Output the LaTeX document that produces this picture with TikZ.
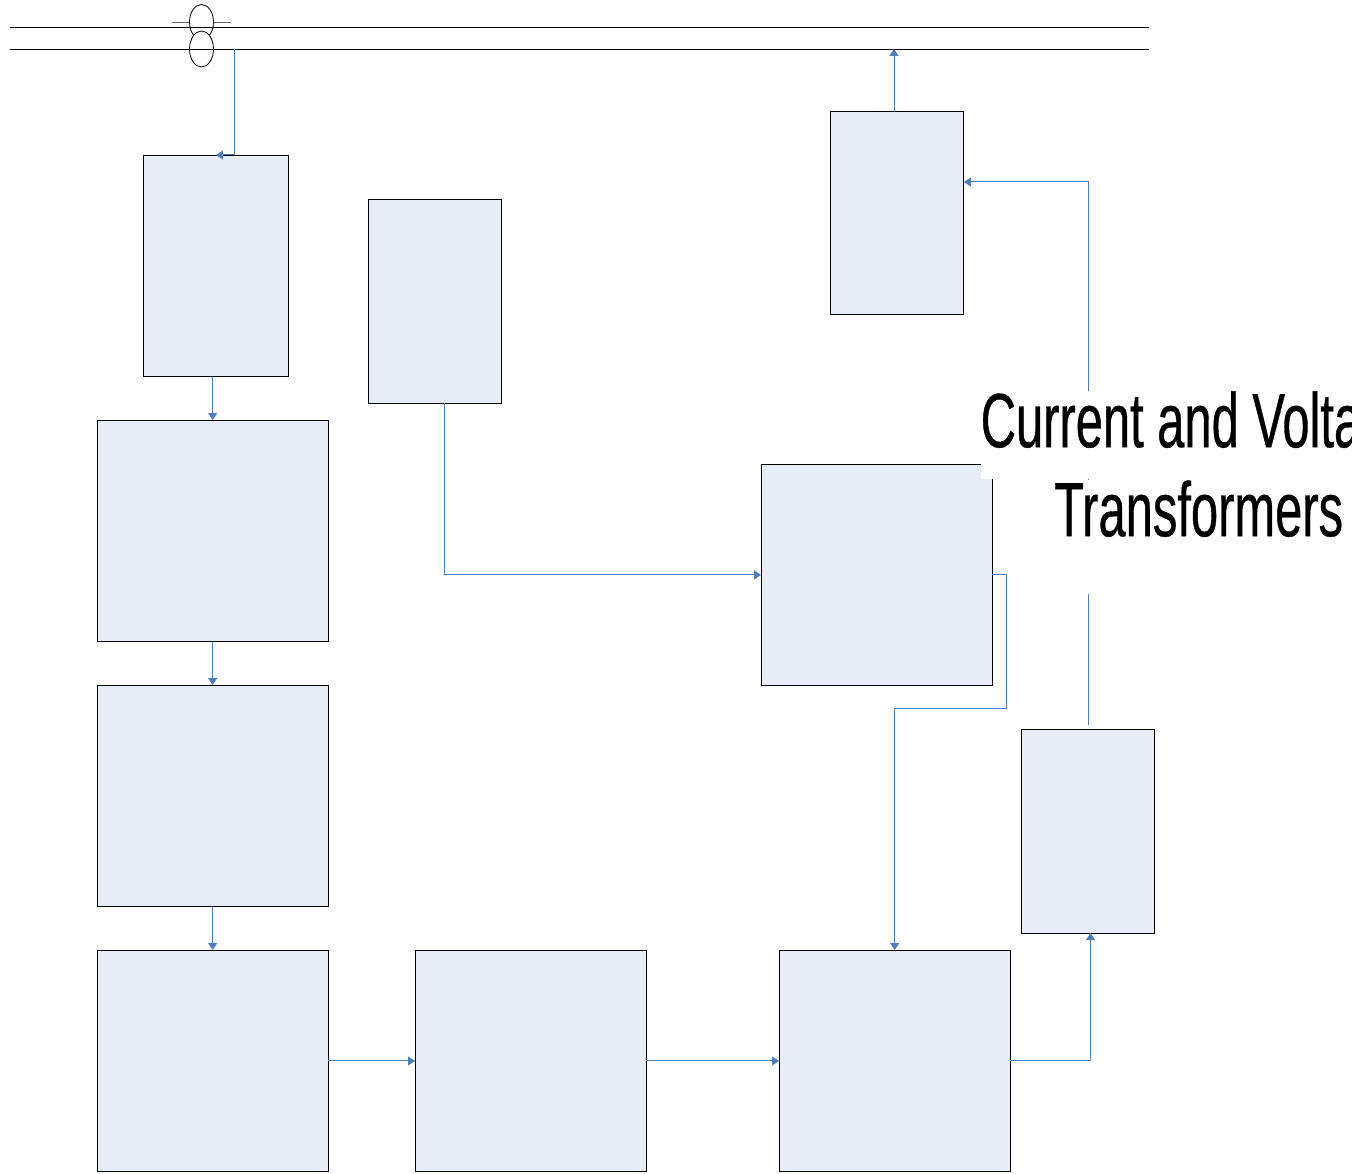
\documentclass[tikz,border=0pt]{standalone}
\usepackage{fontspec}
\newfontfamily\narrowfont[FakeStretch=0.635,FakeBold=0.5]{Liberation Sans}
\usetikzlibrary{arrows.meta,shapes.geometric}
\definecolor{boxfill}{HTML}{E7EDF7}
\definecolor{wire}{HTML}{4A7EBF}
\tikzset{
  block/.style={draw,line width=0.9pt,fill=boxfill,shape=rectangle,anchor=north west,inner sep=0pt},
  bigblock/.style={block,minimum width=230.5pt,minimum height=221pt},
  tallblock/.style={block,minimum width=133pt,minimum height=203.5pt},
  link/.style={draw=wire,line width=1pt,-{Triangle[length=7pt,width=9pt]}},
  busline/.style={line width=0.9pt},
  coil/.style={draw,line width=0.8pt,fill=white},
  heading/.style={fill=white,inner sep=0pt,anchor=north west,font=\narrowfont\fontsize{77pt}{89pt}\selectfont}
}
\begin{document}
\begin{tikzpicture}[x=1pt,y=-1pt]
   \useasboundingbox (0,0) rectangle (1352,1174);

   \draw[line width=1pt,gray!80!black] (172,23) -- (231,23);
   \path (201.5,22) node[coil,ellipse,minimum width=24pt,minimum height=35pt,inner sep=0pt] (coilA) {};
   \path (201.5,49) node[coil,ellipse,minimum width=24pt,minimum height=36pt,inner sep=0pt] (coilB) {};
   \coordinate (busAw) at (10,27);
   \coordinate (busAe) at (1149,27);
   \coordinate (busBw) at (10,49);
   \coordinate (busBe) at (1149,49);
   \draw[busline] (busAw) -- (busAe);
   \draw[busline] (busBw) -- (busBe);

   \path (143,155) node[block,minimum width=145pt,minimum height=221pt] (meter) {};
   \path (97,420) node[bigblock] (B) {};
   \path (97,685) node[bigblock] (C) {};
   \path (97,950) node[bigblock] (D) {};
   \path (415,950) node[bigblock] (E) {};
   \path (779,950) node[bigblock] (F) {};
   \path (761,464) node[bigblock] (H) {};
   \path (368,199) node[tallblock] (I) {};
   \path (830,111) node[tallblock] (J) {};
   \path (1021,729) node[tallblock] (G) {};

   \coordinate (tapBus) at (234.5,49);
   \coordinate (tapMeter) at (234.5,155);
   \coordinate (outBus) at (894,49);
   \coordinate (outJ) at (894,111);
   \coordinate (outI) at (444,403);
   \coordinate (inG) at (1090.5,933);
   \coordinate (outG) at (1088,725);

   \draw[link] (tapBus) -- (tapMeter) -- (meter.north);
   \draw[link] (B.north |- meter.south) -- (B.north);
   \draw[link] (B.south) -- (C.north);
   \draw[link] (C.south) -- (D.north);
   \draw[link] (D.east) -- (E.west);
   \draw[link] (E.east) -- (F.west);
   \draw[link] (F.east) -- (inG |- F.east) -- (inG);
   \draw[link] (outI) |- (H.west);
   \draw[link] (H.east) -- ++(14,0) |- (F.north |- 0,708) -- (F.north);
   \draw[link] (outG) |- (J.east |- 0,182);
   \draw[link] (outJ) -- (outBus);

   \path (980.5,391) node[heading,text height=56pt,text depth=32pt] (labelCurrent) {Current and Voltage};
   \path (1054,480) node[heading,text height=56pt,text depth=58pt] (labelTrans) {Transformers};
\end{tikzpicture}
\end{document}
